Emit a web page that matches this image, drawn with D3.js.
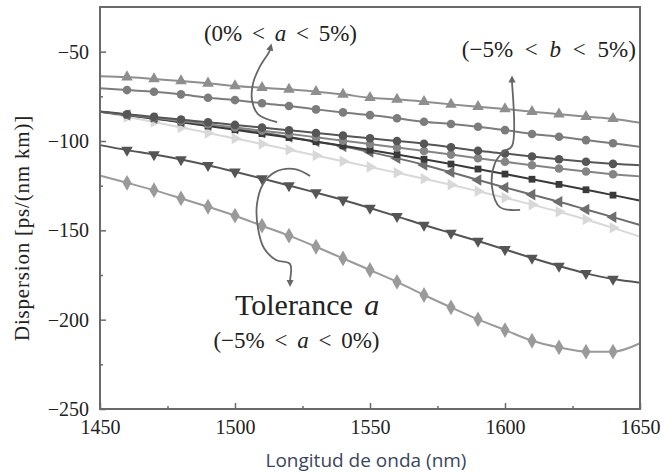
<!DOCTYPE html>
<html>
<head>
<meta charset="utf-8">
<script src="https://cdn.jsdelivr.net/npm/d3@7"></script>
<style>
  body { margin: 0; background: #fff; }
  svg { display: block; }
</style>
</head>
<body>
<script>
// wavelength samples (nm), one marker every 10 nm
var wavelengths = [1450,1460,1470,1480,1490,1500,1510,1520,1530,1540,1550,
                   1560,1570,1580,1590,1600,1610,1620,1630,1640,1650];

// dispersion values, ps/(nm km)
var aPlus5   = [-63.7,-64.2,-65.3,-66.4,-67.7,-69.2,-70.2,-71.1,-72.4,-73.9,-75.8,
                -76.7,-78.0,-79.5,-80.8,-82.1,-83.6,-85.0,-86.4,-87.5,-89.8];
var aPlus2   = [-70.5,-71.5,-72.4,-73.9,-75.8,-77.1,-78.9,-80.4,-82.3,-84.0,-85.5,
                -87.3,-89.2,-90.5,-92.0,-93.9,-96.1,-97.6,-99.5,-101.3,-103.2];
var bMinus5  = [-83.5,-85.0,-86.5,-88.0,-89.5,-91.0,-92.5,-94.0,-95.5,-97.0,-98.5,
                -100.0,-101.5,-103.5,-105.5,-107.0,-108.7,-110.2,-111.6,-112.8,-113.6];
var bMinus2  = [-83.6,-85.3,-87.0,-88.8,-90.6,-92.4,-94.2,-96.0,-97.9,-99.8,-101.7,
                -103.6,-105.6,-107.6,-109.6,-111.6,-113.6,-115.4,-117.1,-118.6,-119.8];
var bZero    = [-83.6,-85.5,-87.5,-89.5,-91.6,-93.7,-95.9,-98.1,-100.4,-102.7,-105.1,
                -107.6,-110.2,-112.9,-115.7,-118.5,-121.4,-124.3,-127.3,-130.3,-133.4];
var bPlus2   = [-83.6,-85.4,-87.3,-89.2,-91.1,-93.1,-95.3,-97.7,-100.3,-103.0,-106.2,
                -109.6,-113.4,-117.5,-121.8,-126.0,-130.0,-134.0,-138.3,-142.6,-147.0];
var bPlus5   = [-83.6,-86.5,-89.4,-92.4,-95.5,-98.6,-101.7,-104.9,-108.1,-111.3,-114.5,
                -117.8,-121.1,-124.5,-128.1,-131.8,-135.6,-139.6,-143.9,-148.6,-153.5];
var aMinus2  = [-102.3,-105.1,-107.6,-110.4,-113.6,-117.2,-121.0,-124.9,-128.9,-133.0,-137.5,
                -142.2,-147.0,-151.5,-156.0,-160.7,-165.5,-170.0,-174.1,-177.3,-179.3];
var aMinus5  = [-119.4,-123.4,-127.5,-132.1,-136.8,-141.8,-147.4,-153.0,-159.2,-165.7,-172.2,
                -178.8,-186.2,-193.1,-199.8,-205.8,-211.8,-215.5,-217.9,-217.9,-213.2];

var xTicks = [1450,1500,1550,1600,1650];
var xMinorTicks = [1475,1525,1575,1625];
var yTicks = [-250,-200,-150,-100,-50];
var yMinorTicks = [-225,-175,-125,-75];

// series order: values, marker, colour
var series = [
  { values: aPlus5,  symbol: "triangle", rot: 0,   color: "#8e8e8e" },
  { values: aPlus2,  symbol: "circle",   rot: 0,   color: "#7c7c7c" },
  { values: bPlus5,  symbol: "triangle", rot: 90,  color: "#d8d8d8" },
  { values: bPlus2,  symbol: "triangle", rot: -90, color: "#6e6e6e" },
  { values: bZero,   symbol: "square",   rot: 0,   color: "#3a3a3a" },
  { values: bMinus2, symbol: "circle",   rot: 0,   color: "#858585" },
  { values: bMinus5, symbol: "circle",   rot: 0,   color: "#565656" },
  { values: aMinus2, symbol: "triangle", rot: 180, color: "#555555" },
  { values: aMinus5, symbol: "diamond",  rot: 0,   color: "#9a9a9a" }
];

var width = 662, height = 474;
var x = d3.scaleLinear().domain([1450, 1650]).range([100, 640]);
var y = d3.scaleLinear().domain([-250, -25]).range([409, 7]);

var svg = d3.select("body").append("svg")
  .attr("width", width)
  .attr("height", height);

svg.append("defs").append("marker")
  .attr("id", "head")
  .attr("viewBox", "0 0 10 10")
  .attr("refX", 2).attr("refY", 5)
  .attr("markerWidth", 4).attr("markerHeight", 4)
  .attr("orient", "auto")
  .append("path")
  .attr("d", "M0,0L10,5L0,10Z")
  .attr("fill", "#666");

var line = d3.line()
  .x(function(d) { return x(d[0]); })
  .y(function(d) { return y(d[1]); })
  .curve(d3.curveMonotoneX);

var symbols = { triangle: d3.symbolTriangle, circle: d3.symbolCircle,
                square: d3.symbolSquare, diamond: d3.symbolDiamond };
var sizes = { triangle: 58, circle: 58, square: 46, diamond: 72 };

series.forEach(function(s) {
  var pts = wavelengths.map(function(w, i) { return [w, s.values[i]]; });
  svg.append("path")
    .attr("d", line(pts))
    .attr("fill", "none")
    .attr("stroke", s.color)
    .attr("stroke-width", 2);
  svg.selectAll(null)
    .data(pts.slice(1, pts.length - 1))
    .enter()
    .append("path")
    .attr("d", d3.symbol().type(symbols[s.symbol]).size(sizes[s.symbol]))
    .attr("transform", function(d) {
      return "translate(" + x(d[0]) + "," + y(d[1]) + ") rotate(" + s.rot + ")";
    })
    .attr("fill", s.color);
});

// frame
svg.append("rect")
  .attr("x", x(1450)).attr("y", y(-25))
  .attr("width", x(1650) - x(1450)).attr("height", y(-250) - y(-25))
  .attr("fill", "none").attr("stroke", "#6a6a6a").attr("stroke-width", 2);

var fmt = function(d) { return String(d).replace("-", "\u2212"); };

var xAxis = svg.append("g").attr("transform", "translate(0," + y(-250) + ")")
  .call(d3.axisBottom(x).tickValues(xTicks).tickSizeInner(-6).tickSizeOuter(0).tickPadding(11).tickFormat(fmt));
var xMinor = svg.append("g").attr("transform", "translate(0," + y(-250) + ")")
  .call(d3.axisBottom(x).tickValues(xMinorTicks).tickSize(-3).tickFormat(""));
var yAxis = svg.append("g").attr("transform", "translate(" + x(1450) + ",0)")
  .call(d3.axisLeft(y).tickValues(yTicks).tickSizeInner(-6).tickSizeOuter(0).tickPadding(11).tickFormat(fmt));
var yMinor = svg.append("g").attr("transform", "translate(" + x(1450) + ",0)")
  .call(d3.axisLeft(y).tickValues(yMinorTicks).tickSize(-3).tickFormat(""));

[xAxis, xMinor, yAxis, yMinor].forEach(function(g) {
  g.select(".domain").remove();
  g.selectAll("line").attr("stroke", "#6a6a6a").attr("stroke-width", 1.5);
  g.selectAll("text")
    .attr("fill", "#222")
    .style("font-family", "'Liberation Serif', serif")
    .style("font-size", "20px");
});

// axis titles
svg.append("text")
  .attr("transform", "translate(29,228) rotate(-90)")
  .attr("text-anchor", "middle")
  .style("font-family", "'Liberation Serif', serif")
  .style("font-size", "21px")
  .style("letter-spacing", "0.8px")
  .attr("fill", "#222")
  .text("Dispersion [ps/(nm km)]");

svg.append("text")
  .attr("x", 366).attr("y", 467)
  .attr("text-anchor", "middle")
  .style("font-family", "'Open Sans', sans-serif")
  .style("font-size", "19px")
  .attr("fill", "#3a4560")
  .text("Longitud de onda (nm)");

// annotation arrows, in data units
var arrows = [
  [[1515.6,-89.4],[1508.5,-84.9],[1506.3,-77.1],[1506.7,-67.6],[1509.3,-58.1],[1512.6,-50.2],[1513,-48.5]],
  [[1605.6,-138.6],[1598.1,-137.0],[1595.2,-125.8],[1596.3,-112.3],[1599.3,-106.2],[1602.6,-102.8],[1602.6,-67.0],[1602.6,-66.5]],
  [[1527.8,-119.6],[1522.2,-115.7],[1514.8,-117.4],[1510.4,-124.1],[1508.1,-135.8],[1508.5,-148.7],[1510.7,-159.9],[1515.2,-166.6],[1520.4,-168.9],[1520.4,-178.0],[1520.4,-178.5]]
];
var arrowLine = d3.line()
  .x(function(d) { return x(d[0]); })
  .y(function(d) { return y(d[1]); })
  .curve(d3.curveCatmullRom);

arrows.forEach(function(a) {
  svg.append("path")
    .attr("d", arrowLine(a))
    .attr("fill", "none")
    .attr("stroke", "#666")
    .attr("stroke-width", 1.8)
    .attr("marker-end", "url(#head)");
});

// annotation texts, anchored in data units
var labels = [
  { at: [1488.5, -44.3], size: 23, spacing: 4, parts: [["(0% < ", false], ["a", true], [" < 5%)", false]] },
  { at: [1584, -53.2],   size: 23, spacing: 6, parts: [["(\u22125% < ", false], ["b", true], [" < 5%)", false]] },
  { at: [1500, -197.4],  size: 30, spacing: 4, parts: [["Tolerance ", false], ["a", true]] },
  { at: [1492, -215.9],  size: 23, spacing: 4, parts: [["(\u22125% < ", false], ["a", true], [" < 0%)", false]] }
];

labels.forEach(function(l) {
  var t = svg.append("text")
    .attr("x", x(l.at[0])).attr("y", y(l.at[1]))
    .style("font-family", "'Liberation Serif', serif")
    .style("font-size", l.size + "px")
    .style("word-spacing", l.spacing + "px")
    .attr("fill", "#222");
  l.parts.forEach(function(p) {
    t.append("tspan").style("font-style", p[1] ? "italic" : "normal").text(p[0]);
  });
});
</script>
</body>
</html>
